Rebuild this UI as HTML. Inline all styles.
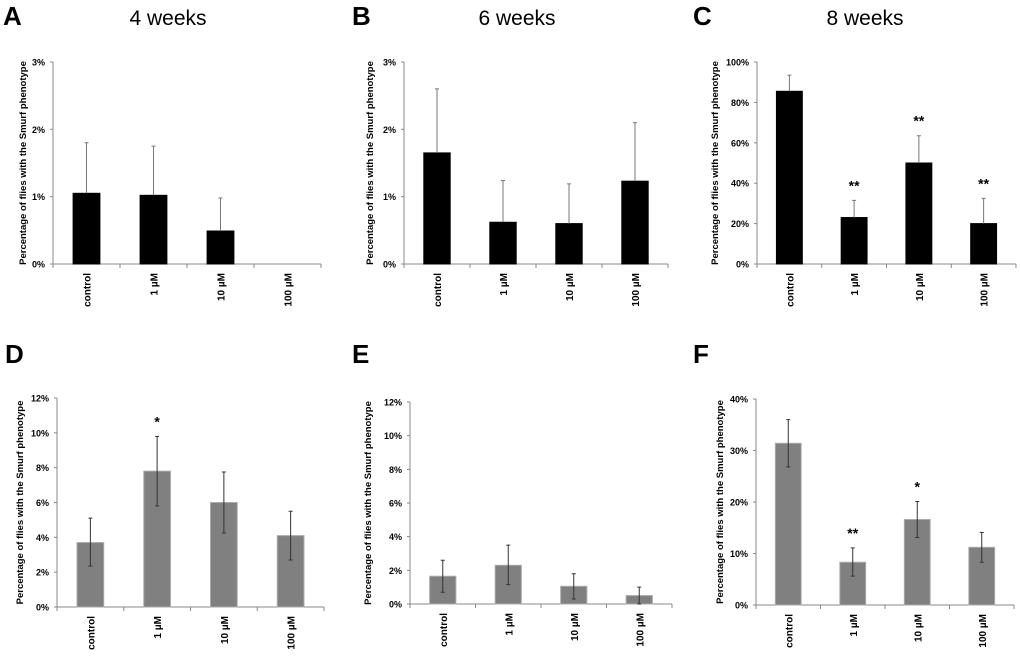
<!DOCTYPE html>
<html><head><meta charset="utf-8"><style>
body{margin:0;background:#fff;width:1020px;height:652px;overflow:hidden;font-family:"Liberation Sans",sans-serif}
</style></head><body>
<svg id="svg" width="1020" height="652" xmlns="http://www.w3.org/2000/svg" font-family="Liberation Sans, sans-serif"></svg>
<script>
const categories=["control","1 µM","10 µM","100 µM"];
const valsA=[1.05,1.02,0.49,0];const hiA=[1.8,1.75,0.98,0];
const valsB=[1.65,0.62,0.6,1.23];const hiB=[2.6,1.24,1.19,2.1];
const valsC=[85.5,23,50,20];const hiC=[93.5,31.5,63.5,32.5];
const starsC=["","**","**","**"];
const valsD=[3.7,7.8,6.0,4.1];const loD=[2.35,5.8,4.25,2.7];const hiD=[5.1,9.8,7.75,5.5];
const starsD=["","*","",""];
const valsE=[1.65,2.3,1.05,0.5];const loE=[0.7,1.15,0.3,0];const hiE=[2.6,3.5,1.8,1.0];
const valsF=[31.4,8.3,16.6,11.2];const loF=[26.8,5.6,13.1,8.3];const hiF=[36,11.1,20.1,14.1];
const starsF=["","**","*",""];
const ticksA=[0,1,2,3],ticksC=[0,20,40,60,80,100],ticksD=[0,2,4,6,8,10,12],ticksF=[0,10,20,30,40];
const NS="http://www.w3.org/2000/svg";const svg=document.getElementById('svg');
function mk(t,a,p,txt){const e=document.createElementNS(NS,t);for(const k in a)e.setAttribute(k,a[k]);if(txt!==undefined)e.textContent=txt;(p||svg).appendChild(e);return e;}
const panels=[
{id:"a",L:"A",title:"4 weeks",lx:3,ly:25,tx:168,x0:53,x1:321,y0:264,y1:62,max:3,ticks:ticksA,vals:valsA,lo:null,hi:hiA,stars:null,fill:"#000",to:27},
{id:"b",L:"B",title:"6 weeks",lx:352,ly:25,tx:517,x0:404,x1:668,y0:264,y1:62,max:3,ticks:ticksA,vals:valsB,lo:null,hi:hiB,stars:null,fill:"#000",to:31},
{id:"c",L:"C",title:"8 weeks",lx:693,ly:25,tx:865,x0:757,x1:1016,y0:264,y1:62,max:100,ticks:ticksC,vals:valsC,lo:null,hi:hiC,stars:starsC,fill:"#000",to:39},
{id:"d",L:"D",title:"",lx:5,ly:363,tx:0,x0:57,x1:324,y0:607,y1:398,max:12,ticks:ticksD,vals:valsD,lo:loD,hi:hiD,stars:starsD,fill:"#808080",to:34},
{id:"e",L:"E",title:"",lx:352,ly:363,tx:0,x0:410,x1:672,y0:604,y1:402,max:12,ticks:ticksD,vals:valsE,lo:loE,hi:hiE,stars:null,fill:"#808080",to:39},
{id:"f",L:"F",title:"",lx:693,ly:363,tx:0,x0:756,x1:1014,y0:605,y1:399,max:40,ticks:ticksF,vals:valsF,lo:loF,hi:hiF,stars:starsF,fill:"#808080",to:33}];
panels.forEach(p=>{
 const g=mk('g',{});
 
 
 const lt=mk('text',{x:p.lx,y:p.ly,'font-size':26,'font-weight':'bold'},g,p.L);
 
 
 if(p.title){const tt=mk('text',{x:p.tx,y:25,'font-size':21,'text-anchor':'middle'},g,p.title);
  
  }
 const Y=v=>p.y0-(v/p.max)*(p.y0-p.y1);
 const cw=(p.x1-p.x0)/categories.length,bw=cw*0.4;
 const ax=mk('line',{x1:p.x0,y1:p.y1,x2:p.x0,y2:p.y0,stroke:'#888','stroke-width':1},g);
 
 
 const xa=mk('line',{x1:p.x0,y1:p.y0,x2:p.x1,y2:p.y0,stroke:'#888','stroke-width':1},g);
 
 
 p.ticks.forEach(t=>{const y=Y(t);
  mk('line',{x1:p.x0-3,y1:y,x2:p.x0,y2:y,stroke:'#888'},g);
  const tl=mk('text',{x:p.x0-8,y:y+3.5,'font-size':9,'font-weight':'bold','text-anchor':'end'},g,t+'%');
  
  });
 for(let i=0;i<=categories.length;i++){const x=p.x0+i*cw;mk('line',{x1:x,y1:p.y0,x2:x,y2:p.y0+4,stroke:'#888'},g);}
 const yt=mk('text',{transform:`translate(${p.x0-p.to},${(p.y0+p.y1)/2}) rotate(-90)`,'font-size':9.5,'font-weight':'bold','text-anchor':'middle'},g,'Percentage of flies with the Smurf phenotype');
 
 
 categories.forEach((c,i)=>{
  const cx=p.x0+cw*(i+0.5),v=p.vals[i];
  if(v>0){const r=mk('rect',{x:cx-bw/2,y:Y(v),width:bw,height:p.y0-Y(v),fill:p.fill,stroke:p.fill==='#000'?'#000':'#aaa','stroke-width':1},g);
   
   }
  if(p.hi[i]>0){const lo=p.lo?p.lo[i]:v;
   const e=mk('path',{d:`M${cx} ${Y(lo)}V${Y(p.hi[i])}M${cx-2} ${Y(p.hi[i])}H${cx+2}`+(p.lo?`M${cx-2} ${Y(lo)}H${cx+2}`:''),stroke:p.lo?'#333':'#777','stroke-width':1,fill:'none'},g);
   
   }
  if(p.stars&&p.stars[i]){const s=mk('text',{x:cx,y:Y(p.hi[i])-10,'font-size':14,'font-weight':'bold','text-anchor':'middle'},g,p.stars[i]);
   
   }
  const cl=mk('text',{transform:`translate(${cx+4},${p.y0+9}) rotate(-90)`,'font-size':10,'font-weight':'bold','text-anchor':'end'},g,c);
  
  
 });
});
</script>
</body></html>
